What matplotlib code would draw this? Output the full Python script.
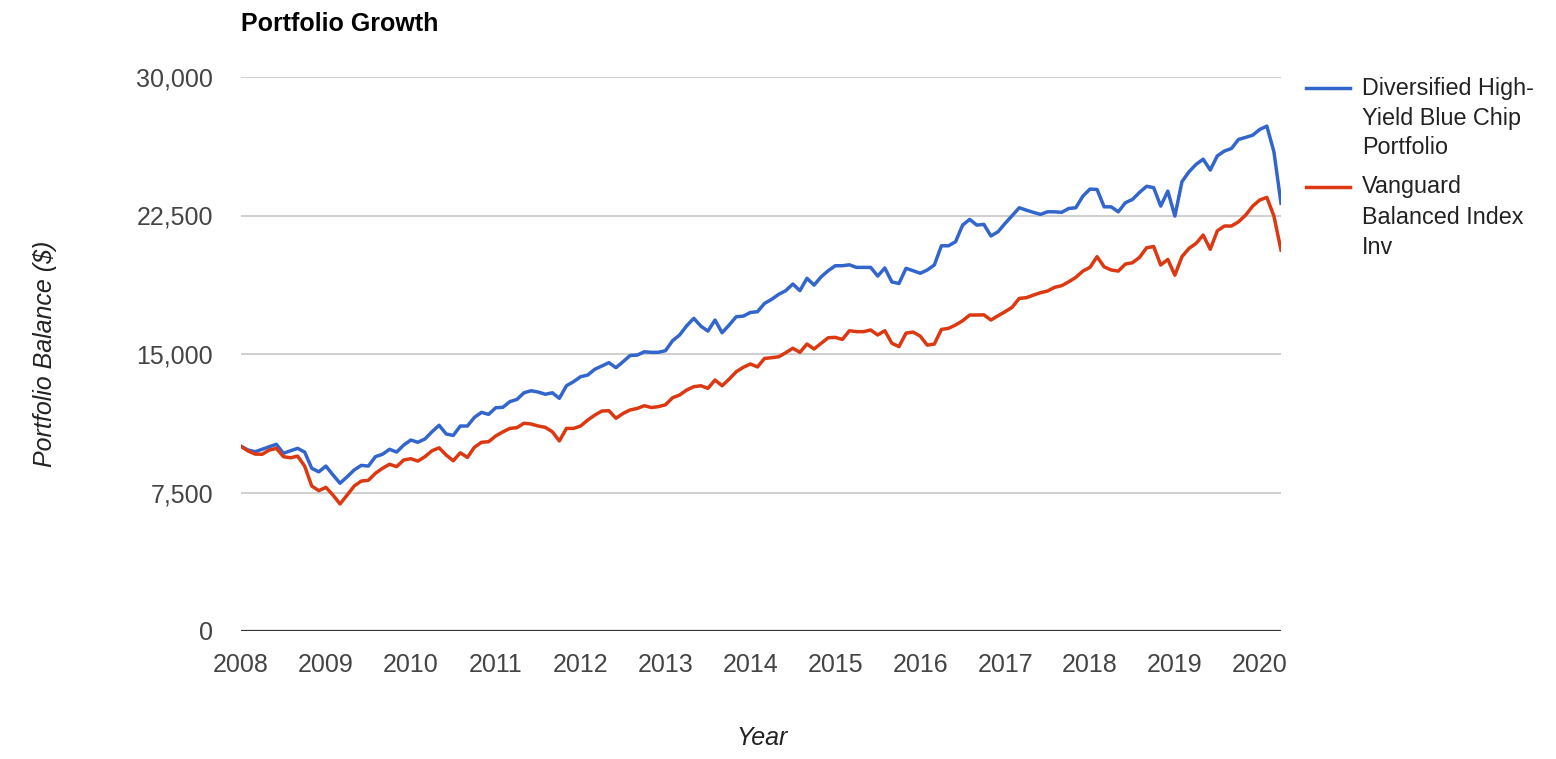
import numpy as np
import matplotlib
matplotlib.use("Agg")
import matplotlib.pyplot as plt
from matplotlib.lines import Line2D
from matplotlib.ticker import FuncFormatter

plt.rcParams['font.family'] = ['Liberation Sans', 'DejaVu Sans']

# Monthly portfolio balances, Jan 2008 (start) .. Mar 2020
start_year = 2008
blue_name = "Diversified High-\nYield Blue Chip\nPortfolio"
red_name = "Vanguard\nBalanced Index\nInv"

blue_values = [
    10000, 9800, 9710, 9840, 9980, 10110, 9620, 9760, 9890, 9690, 8810, 8620,
    8930, 8450, 8000, 8350, 8720, 8970, 8930, 9440, 9570, 9840, 9690, 10070,
    10340, 10220, 10400, 10790, 11140, 10670, 10590, 11100, 11100, 11570, 11840, 11730,
    12090, 12110, 12420, 12540, 12900, 13010, 12940, 12820, 12900, 12600, 13280, 13500,
    13770, 13860, 14170, 14350, 14530, 14260, 14580, 14920, 14940, 15120, 15090, 15090,
    15180, 15720, 16030, 16530, 16930, 16510, 16240, 16840, 16150, 16570, 17020, 17050,
    17250, 17290, 17740, 17960, 18230, 18430, 18790, 18430, 19100, 18730, 19180, 19510,
    19780, 19780, 19830, 19690, 19690, 19690, 19220, 19660, 18900, 18820, 19640, 19510,
    19370, 19550, 19820, 20860, 20860, 21080, 21980, 22290, 21980, 22020, 21390, 21620,
    22070, 22490, 22920, 22790, 22670, 22560, 22700, 22700, 22670, 22880, 22920, 23550,
    23930, 23910, 22970, 22970, 22700, 23190, 23370, 23750, 24080, 24010, 23010, 23820,
    22470, 24330, 24870, 25270, 25550, 24960, 25730, 25990, 26130, 26620, 26730, 26850,
    27160, 27340, 25950, 23160,
]

red_values = [
    10000, 9750, 9580, 9570, 9800, 9890, 9440, 9380, 9470, 8930, 7850, 7600,
    7780, 7360, 6880, 7360, 7850, 8120, 8160, 8540, 8810, 9030, 8900, 9260,
    9330, 9200, 9440, 9760, 9920, 9530, 9220, 9650, 9400, 9950, 10220, 10250,
    10560, 10780, 10970, 11010, 11250, 11210, 11100, 11030, 10790, 10290, 10970, 10970,
    11100, 11420, 11690, 11910, 11930, 11520, 11780, 11970, 12050, 12200, 12100, 12150,
    12250, 12630, 12780, 13050, 13230, 13280, 13140, 13590, 13280, 13640, 14040, 14280,
    14460, 14300, 14760, 14800, 14850, 15070, 15310, 15090, 15540, 15270, 15580, 15880,
    15900, 15790, 16260, 16210, 16210, 16300, 16030, 16260, 15580, 15400, 16130, 16190,
    15970, 15480, 15540, 16330, 16390, 16570, 16800, 17110, 17110, 17120, 16840, 17070,
    17290, 17530, 18010, 18050, 18190, 18320, 18410, 18610, 18700, 18910, 19150, 19490,
    19690, 20270, 19720, 19550, 19490, 19870, 19940, 20230, 20750, 20820, 19820, 20120,
    19270, 20270, 20720, 20990, 21440, 20670, 21670, 21930, 21930, 22160, 22520, 23010,
    23340, 23480, 22470, 20630,
]

y_ticks = [0, 7500, 15000, 22500, 30000]
x_ticks = [2008, 2009, 2010, 2011, 2012, 2013, 2014, 2015, 2016, 2017, 2018, 2019, 2020]

blue_color = "#3366cc"
red_color = "#dc3912"

W, H = 1556, 759
fig = plt.figure(figsize=(W / 100, H / 100), dpi=100)
ax = fig.add_axes([241 / W, 1 - 631 / H, (1281 - 241) / W, (631 - 77) / H])

x = start_year + np.arange(len(blue_values)) / 12.0

for yt in y_ticks[1:]:
    ax.axhline(yt, color="#cccccc", lw=1.3, zorder=1)
ax.axhline(0, color="#333333", lw=1.6, zorder=3)

ax.plot(x, blue_values, color=blue_color, lw=2.5, zorder=4, solid_joinstyle='round')
ax.plot(x, red_values, color=red_color, lw=2.5, zorder=4, solid_joinstyle='round')

ax.set_xlim(x[0], x[-1])
ax.set_ylim(0, 30000)
ax.set_yticks(y_ticks)
ax.yaxis.set_major_formatter(FuncFormatter(lambda v, p: f"{int(v):,}"))
ax.set_xticks(x_ticks)
ax.set_xticklabels([str(t) for t in x_ticks])
ax.tick_params(axis='both', length=0, labelsize=18, labelcolor="#444444")
ax.tick_params(axis='y', pad=20)
ax.tick_params(axis='x', pad=16)
for s in ax.spines.values():
    s.set_visible(False)
ax.set_facecolor("none")

# Title and axis labels
fig.text(241 / W, 1 - 31 / H, "Portfolio Growth", fontsize=18, fontweight='bold',
         color="#000000", ha='left', va='baseline')
fig.text(45 / W, 1 - 354 / H, "Portfolio Balance ($)", fontsize=18, style='italic',
         color="#222222", rotation=90, ha='center', va='center')
fig.text(762 / W, 1 - 738 / H, "Year", fontsize=18, style='italic',
         color="#222222", ha='center', va='center')

# Legend (manual)
legend_entries = [(blue_name, blue_color, 88), (red_name, red_color, 187)]
for label, color, ypix in legend_entries:
    fig.add_artist(Line2D([1306 / W, 1350 / W], [1 - ypix / H, 1 - ypix / H],
                          color=color, lw=2.5, transform=fig.transFigure))
    for k, line in enumerate(label.split("\n")):
        fig.text(1362 / W, 1 - (ypix + 30 * k) / H, line, fontsize=16.8,
                 color="#222222", ha='left', va='center')

fig.savefig("out.png", dpi=100)
